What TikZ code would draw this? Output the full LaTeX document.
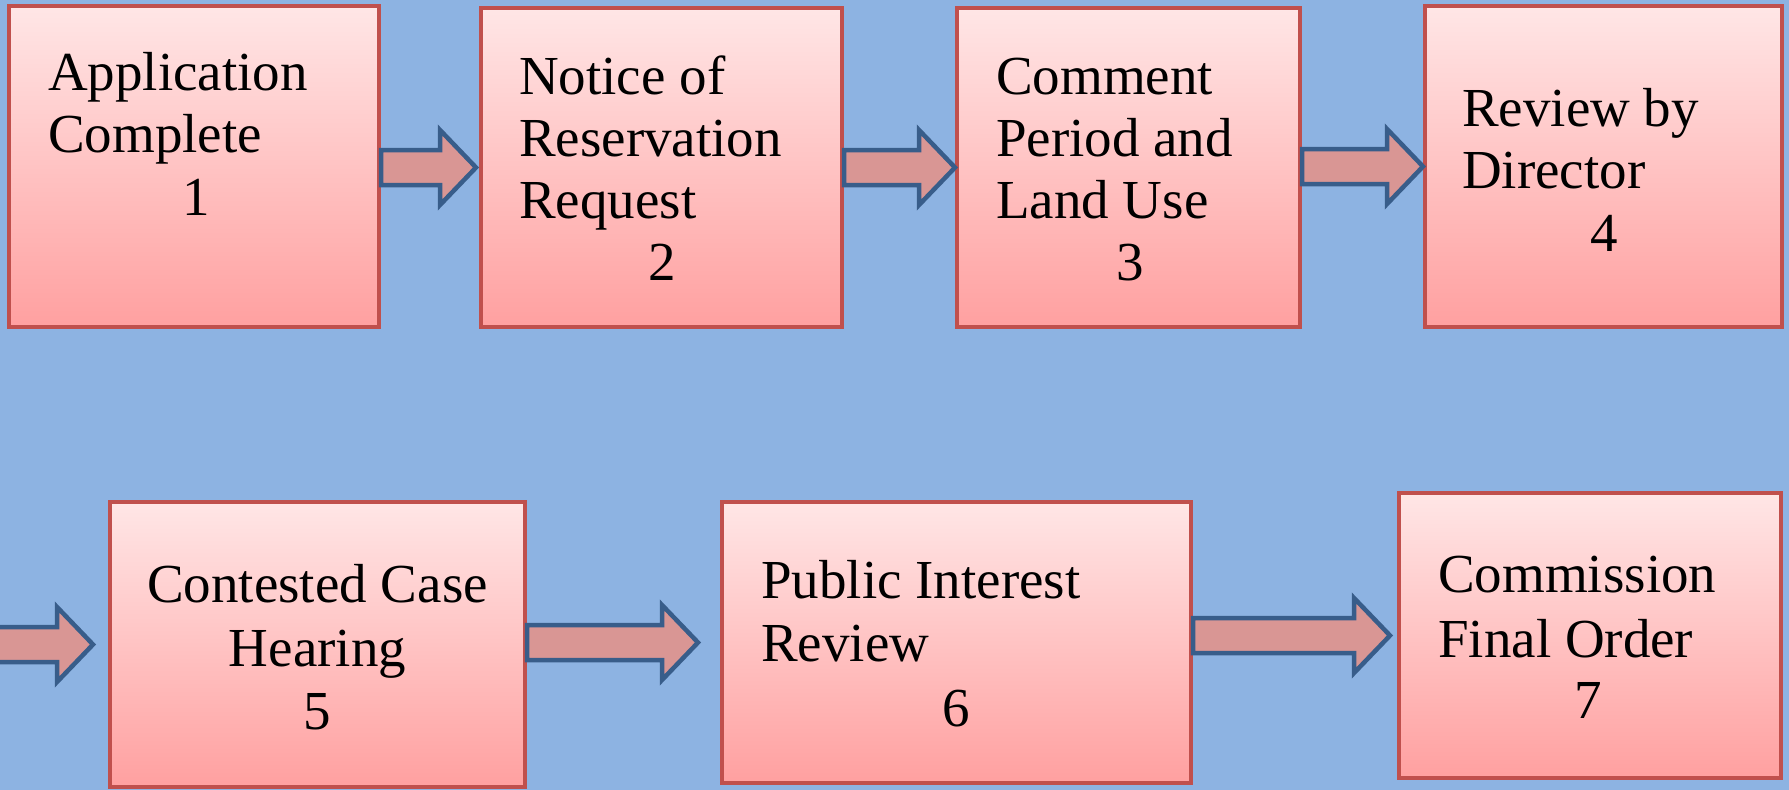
\documentclass[tikz,border=0pt]{standalone}
\usepackage{fontspec}
\setmainfont{Liberation Serif}
\usetikzlibrary{calc}
\definecolor{bg}{HTML}{8DB3E2}
\definecolor{boxtop}{HTML}{FFE6E6}
\definecolor{boxbot}{HTML}{FFA0A0}
\definecolor{boxline}{HTML}{C0504D}
\definecolor{arrfill}{HTML}{D99694}
\definecolor{arrline}{HTML}{385D8A}
\tikzset{
  box/.style={rectangle, draw=boxline, line width=4pt, top color=boxtop, bottom color=boxbot, inner sep=0pt},
  lbl/.style={inner sep=0pt, font=\fontsize{55}{63}\selectfont, text=black},
  barrow/.style={fill=arrfill, draw=arrline, line width=4.5pt, line join=miter},
}
\newcommand\blockarrow[2]{%
  \draw[barrow] let \p1=(#1), \p2=(#2) in
    (\x1,\y2+17.5pt) -- (\x2-36pt,\y2+17.5pt) -- (\x2-36pt,\y2+37.5pt) -- (\x2,\y2)
    -- (\x2-36pt,\y2-37.5pt) -- (\x2-36pt,\y2-17.5pt) -- (\x1,\y2-17.5pt) -- cycle;}
\begin{document}
\begin{tikzpicture}[x=1pt,y=-1pt]
\fill[bg] (0,0) rectangle (1789,790);
\useasboundingbox (0,0) rectangle (1789,790);
% boxes
\node[box, minimum width=370, minimum height=321] (b1) at (194,166.5) {};
\node[box, minimum width=361, minimum height=319] (b2) at (661.5,167.5) {};
\node[box, minimum width=343, minimum height=319] (b3) at (1128.5,167.5) {};
\node[box, minimum width=357, minimum height=321] (b4) at (1603.5,166.5) {};
\node[box, minimum width=415, minimum height=285] (b5) at (317.5,644.5) {};
\node[box, minimum width=469, minimum height=281] (b6) at (956.5,642.5) {};
\node[box, minimum width=382, minimum height=285] (b7) at (1590,635.5) {};
% arrows
\coordinate (a1t) at ([xshift=-3pt]b2.west);
\coordinate (a4s) at (-5,646);
\coordinate (a4t) at ([xshift=-15pt]b5.west);
\coordinate (a5t) at ([xshift=-22pt]b6.west);
\coordinate (a6t) at ([xshift=-7pt]b7.west);
\blockarrow{b1.east}{a1t}
\blockarrow{b2.east}{b3.west}
\blockarrow{b3.east}{b4.west}
\blockarrow{a4s}{a4t}
\blockarrow{b5.east}{a5t}
\blockarrow{b6.east}{a6t}
% texts
\node[lbl, anchor=base west] (t1a) at (48,90) {Application};
\node[lbl, anchor=base west] (t1b) at (48,152) {Complete};
\node[lbl, anchor=base] (n1) at (196,215) {1};
\node[lbl, anchor=base west] (t2a) at (519,94) {Notice of};
\node[lbl, anchor=base west] (t2b) at (519,156) {Reservation};
\node[lbl, anchor=base west] (t2c) at (519,218) {Request};
\node[lbl, anchor=base] (n2) at (662,280) {2};
\node[lbl, anchor=base west] (t3a) at (996,94) {Comment};
\node[lbl, anchor=base west] (t3b) at (996,156) {Period and};
\node[lbl, anchor=base west] (t3c) at (996,218) {Land Use};
\node[lbl, anchor=base] (n3) at (1130,280) {3};
\node[lbl, anchor=base west] (t4a) at (1462,126) {Review by};
\node[lbl, anchor=base west] (t4b) at (1462,188) {Director};
\node[lbl, anchor=base] (n4) at (1604,251) {4};
\node[lbl, anchor=base] (t5a) at (317.5,602) {Contested Case};
\node[lbl, anchor=base] (t5b) at (317.5,666) {Hearing};
\node[lbl, anchor=base] (n5) at (317.5,729) {5};
\node[lbl, anchor=base west] (t6a) at (761,598) {Public Interest};
\node[lbl, anchor=base west] (t6b) at (761,661) {Review};
\node[lbl, anchor=base] (n6) at (956,726) {6};
\node[lbl, anchor=base west] (t7a) at (1438,592) {Commission};
\node[lbl, anchor=base west] (t7b) at (1438,657) {Final Order};
\node[lbl, anchor=base] (n7) at (1588,718) {7};
\end{tikzpicture}
\end{document}
